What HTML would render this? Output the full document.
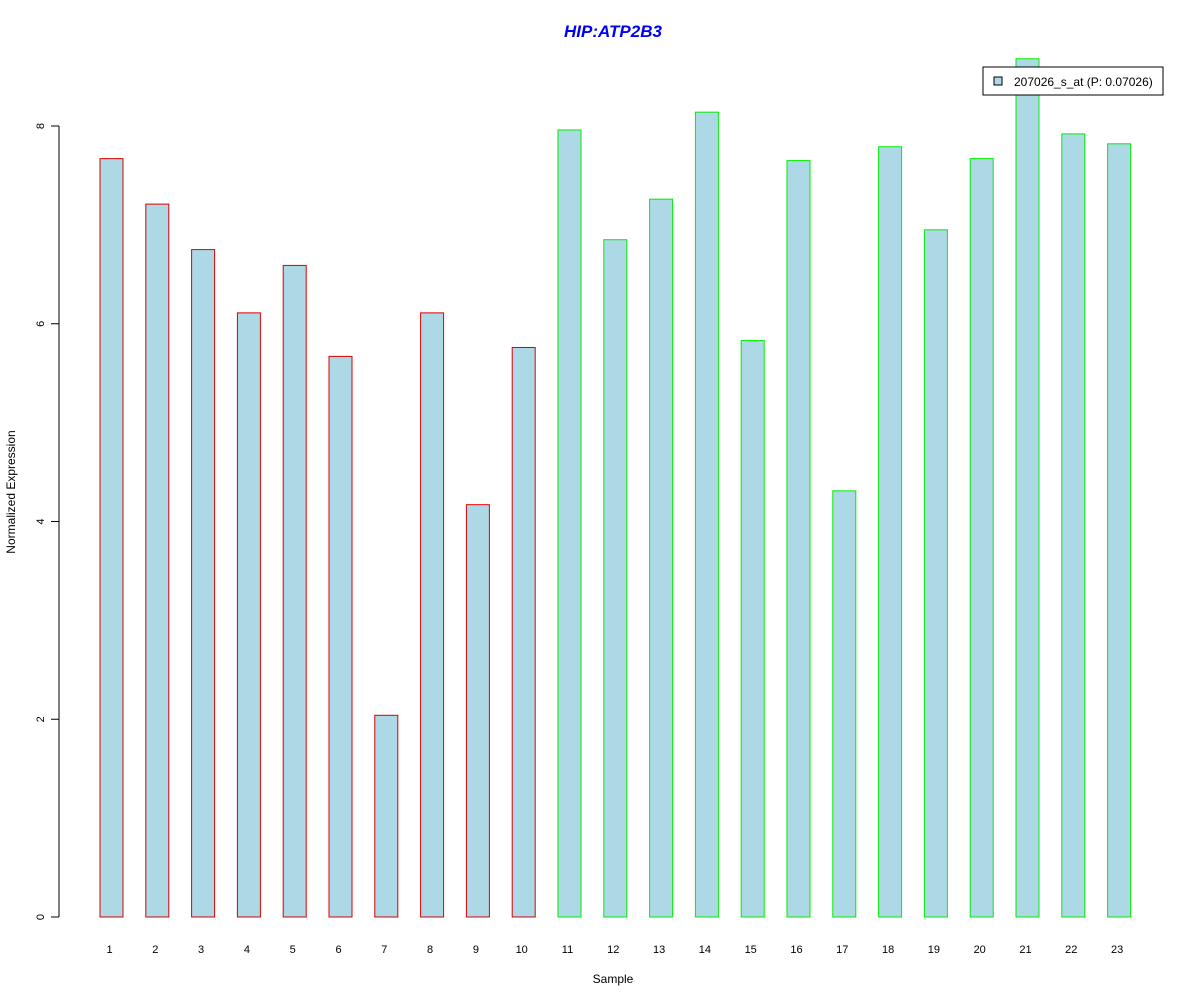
<!DOCTYPE html>
<html><head><meta charset="utf-8"><style>
body{margin:0;background:#fff}
svg{display:block;font-family:"Liberation Sans",Arial,sans-serif}
</style></head><body>
<svg id="chart" width="1200" height="1000" xmlns="http://www.w3.org/2000/svg">
<text x="613" y="37" text-anchor="middle" font-size="17" font-weight="bold" font-style="italic" fill="#0000ee">HIP:ATP2B3</text>
<text x="613" y="983" text-anchor="middle" font-size="12">Sample</text>
<text transform="translate(15,492) rotate(-90)" text-anchor="middle" font-size="12">Normalized Expression</text>
<g id="bars"></g>
<g id="yaxis"></g>
<g id="xlabels"></g>
<g>
<rect x="983" y="67" width="180" height="28" fill="#fff" stroke="#000" stroke-width="1"/>
<rect x="994" y="77" width="8" height="8" fill="lightblue" stroke="#000" stroke-width="1"/>
<text x="1014" y="86" font-size="12">207026_s_at (P: 0.07026)</text>
</g>
</svg>
<script>
const categories=["1","2","3","4","5","6","7","8","9","10","11","12","13","14","15","16","17","18","19","20","21","22","23"];
const values=[7.67,7.21,6.75,6.11,6.59,5.67,2.04,6.11,4.17,5.76,7.96,6.85,7.26,8.14,5.83,7.65,4.31,7.79,6.95,7.67,8.68,7.92,7.82];
const groups=[0,0,0,0,0,0,0,0,0,0,1,1,1,1,1,1,1,1,1,1,1,1,1];
const yTicks=[0,2,4,6,8];
const NS="http://www.w3.org/2000/svg";
const y=v=>917-v*98.875;
const x=i=>111.5+i*45.8;
const bw=23;
const bars=document.getElementById('bars');
values.forEach((v,i)=>{
 const r=document.createElementNS(NS,'rect');
 
 
 r.setAttribute('x',x(i)-bw/2);r.setAttribute('width',bw);
 r.setAttribute('y',y(v));r.setAttribute('height',y(0)-y(v));
 r.setAttribute('fill','lightblue');
 r.setAttribute('stroke',groups[i]?'#00ee00':'#dd0000');
 bars.appendChild(r);
 const t=document.createElementNS(NS,'text');
 
 
 t.setAttribute('x',x(i)-2);t.setAttribute('y',953);
 t.setAttribute('text-anchor','middle');t.setAttribute('font-size','11');
 t.textContent=categories[i];
 document.getElementById('xlabels').appendChild(t);
});
const ya=document.getElementById('yaxis');
const ln=document.createElementNS(NS,'line');


ln.setAttribute('x1',59);ln.setAttribute('x2',59);ln.setAttribute('y1',y(0));ln.setAttribute('y2',y(8));ln.setAttribute('stroke','#000');
ya.appendChild(ln);
yTicks.forEach(v=>{
 const l=document.createElementNS(NS,'line');
 
 
 l.setAttribute('x1',51);l.setAttribute('x2',59);l.setAttribute('y1',y(v));l.setAttribute('y2',y(v));l.setAttribute('stroke','#000');
 ya.appendChild(l);
 const t=document.createElementNS(NS,'text');
 
 
 t.setAttribute('transform','translate(44,'+y(v)+') rotate(-90)');
 t.setAttribute('text-anchor','middle');t.setAttribute('font-size','11');
 t.textContent=v;
 ya.appendChild(t);
});
</script>
</body></html>
